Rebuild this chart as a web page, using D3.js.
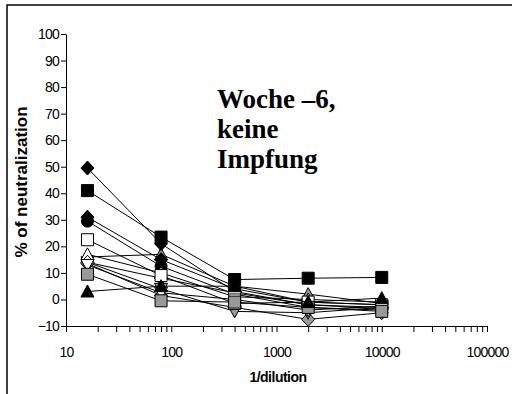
<!DOCTYPE html>
<html><head><meta charset="utf-8">
<script src="https://cdn.jsdelivr.net/npm/d3@7"></script>
<style>body{margin:0;background:#fff;}svg{display:block;}</style>
</head><body>
<svg id="c" width="512" height="394"></svg>
<script>
const dilutions = [16, 80, 400, 2000, 10000];
const xTickLabels = [10, 100, 1000, 10000, 100000];
const yTicks = [-10, 0, 10, 20, 30, 40, 50, 60, 70, 80, 90, 100];

// each series: values at dilutions
const s1 = [49.5, 21, 3, -2, -3];
const s2 = [41, 23.5, 7.5, 8, 8.3];
const s3 = [31, 15, 4, -1, -2];
const s4 = [29.5, 12.5, 2, -3, -4];
const s5 = [22.5, 9, -1.5, -1, -2];
const s6 = [17, 10, 1, 0, -1];
const s7 = [16, 17, 5, 2, -1.5];
const s8 = [14, 8, 2.5, -2, -3.5];
const s9 = [13, 2.5, 0, -4, -2.5];
const s10 = [9.5, -0.5, -1, -3, -4.5];
const s11 = [3, 5, 5, -1, 0.5];
const s12 = [13.5, 1.5, -3, -7.5, -5];
const s13 = [14, 4, -4.5, -5, -3];

const seriesShapes = ["diamond","square","diamond","circle","square","triangle","triangle","diamond","triangleDown","square","triangle","diamond","triangleDown"];
const seriesFills = ["#000","#000","#000","#000","#fff","#fff","#999","#fff","#fff","#999","#000","#999","#999"];
const seriesValues = [s1,s2,s3,s4,s5,s6,s7,s8,s9,s10,s11,s12,s13];
// drawing order for markers (last on top)
const markerOrder = [6,11,12,0,2,3,1,5,7,8,4,9,10];

const svg = d3.select("#c");
// outer frame
svg.append("rect").attr("x",7).attr("y",5).attr("width",520).attr("height",400)
  .attr("fill","none").attr("stroke","#000").attr("stroke-width",1.5);

const x = d3.scaleLog().domain([10,100000]).range([66,487]);
const y = d3.scaleLinear().domain([-10,100]).range([326,34]);

// x axis
const xTicks = [];
for (let d=10; d<100000; d*=10) for (let k=1;k<10;k++) xTicks.push(d*k);
xTicks.push(100000);
const xAxis = d3.axisBottom(x).tickValues(xTicks)
  .tickFormat(d => xTickLabels.includes(d) ? String(d) : "")
  .tickSize(6).tickSizeOuter(0).tickPadding(15);
const gx = svg.append("g").attr("transform","translate(0,326)").call(xAxis);
gx.selectAll("text").attr("font-family","Liberation Sans, Arial, sans-serif").attr("font-size",14).attr("letter-spacing","-0.8px").attr("fill","#000");
gx.selectAll("line,path").attr("stroke","#000");

const yAxis = d3.axisLeft(y).tickValues(yTicks).tickSize(5).tickSizeOuter(0).tickPadding(2);
const gy = svg.append("g").attr("transform","translate(66,0)").call(yAxis);
gy.selectAll("text").attr("font-family","Liberation Sans, Arial, sans-serif").attr("font-size",14).attr("letter-spacing","-0.8px").attr("fill","#000");
gy.selectAll("line,path").attr("stroke","#000");

// axis titles
svg.append("text").attr("x",278).attr("y",382).attr("text-anchor","middle")
  .attr("font-family","Liberation Sans, Arial, sans-serif").attr("font-weight","bold").attr("font-size",14)
  .attr("letter-spacing","-0.5px").text("1/dilution");
svg.append("text").attr("transform","translate(27,182) rotate(-90)").attr("text-anchor","middle")
  .attr("font-family","Liberation Sans, Arial, sans-serif").attr("font-weight","bold").attr("font-size",17)
  .text("% of neutralization");

// annotation
const ann = ["Woche \u20136,","keine","Impfung"];
svg.append("g").selectAll("text").data(ann).join("text")
  .attr("x",217).attr("y",(d,i)=>108+i*30)
  .attr("font-family","Liberation Serif, Times New Roman, serif").attr("font-weight","bold").attr("font-size",27)
  .text(d=>d);

// lines
const line = d3.line().x((d,i)=>x(dilutions[i])).y(d=>y(d));
svg.append("g").selectAll("path").data(seriesValues).join("path")
  .attr("d", d=>line(d)).attr("fill","none").attr("stroke","#000").attr("stroke-width",1);

function shapePath(shape, cx, cy) {
  switch(shape) {
    case "square": return `M${cx-6},${cy-6}h12v12h-12Z`;
    case "diamond": return `M${cx},${cy-7}L${cx+6.5},${cy}L${cx},${cy+7}L${cx-6.5},${cy}Z`;
    case "triangle": return `M${cx},${cy-6.5}L${cx+6.5},${cy+5.5}L${cx-6.5},${cy+5.5}Z`;
    case "triangleDown": return `M${cx},${cy+6.5}L${cx+6.5},${cy-5.5}L${cx-6.5},${cy-5.5}Z`;
    case "circle": return `M${cx-6},${cy}a6,6 0 1,0 12,0a6,6 0 1,0 -12,0Z`;
  }
}
const mg = svg.append("g");
markerOrder.forEach(si => {
  mg.append("g").selectAll("path").data(seriesValues[si]).join("path")
    .attr("d",(d,i)=>shapePath(seriesShapes[si], x(dilutions[i]), y(d)))
    .attr("fill", seriesFills[si]).attr("stroke","#000").attr("stroke-width",1);
});
</script>
</body></html>
